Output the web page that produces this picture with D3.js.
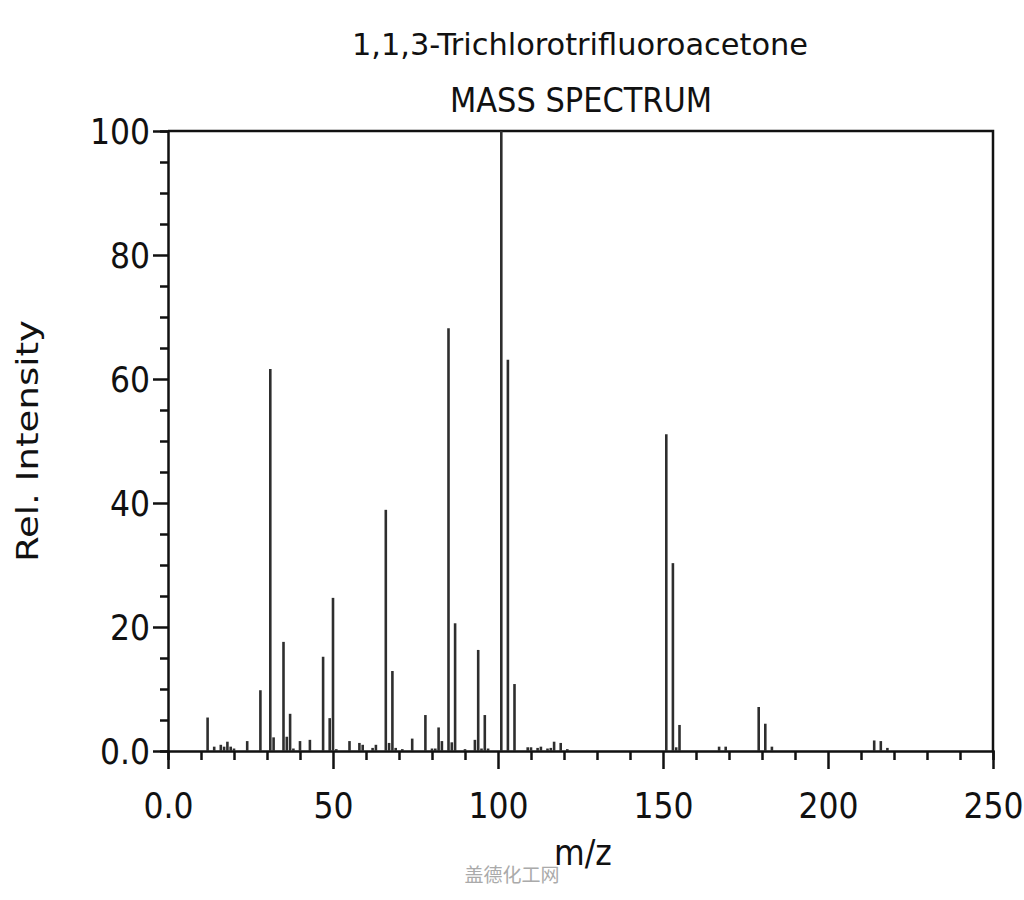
<!DOCTYPE html>
<html lang="en">
  <head>
    <meta charset="utf-8" />
    <title>1,1,3-Trichlorotrifluoroacetone :: mass spectrum</title>
    <style>
      body { margin: 0; background: #fff; }
      svg text { font-family: "DejaVu Sans Condensed", "DejaVu Sans", sans-serif; fill: #111; }
    </style>
    <script src="https://cdn.jsdelivr.net/npm/d3@7"></script>
  </head>
  <body>
    <div id="chart"></div>
    <script>
      // peaks: m/z and relative intensity
      var mz = [12, 14, 16, 17, 18, 19, 20, 24, 28, 31, 32, 35, 36, 37, 38, 40,
        43, 47, 49, 50, 51, 55, 58, 59, 62, 63, 66, 67, 68, 69, 71, 74, 78,
        80, 81, 82, 83, 85, 86, 87, 90, 93, 94, 95, 96, 97, 101, 103, 105,
        109, 110, 112, 113, 115, 116, 117, 119, 121, 151, 153, 154, 155,
        167, 169, 179, 181, 183, 214, 216, 218];
      var intensity = [5.4, 0.7, 1.0, 0.7, 1.5, 0.7, 0.4, 1.6, 9.8, 61.6, 2.2, 17.6, 2.3, 6.0, 0.4, 1.6,
        1.8, 15.2, 5.3, 24.7, 0.3, 1.6, 1.3, 1.0, 0.5, 1.0, 38.9, 1.3, 12.9, 0.5, 0.3, 2.0, 5.8,
        0.4, 0.4, 3.8, 1.6, 68.2, 1.4, 20.6, 0.3, 1.8, 16.3, 0.4, 5.8, 0.4, 100, 63.1, 10.8,
        0.6, 0.6, 0.5, 0.7, 0.4, 0.5, 1.5, 1.3, 0.3, 51.1, 30.3, 0.6, 4.2,
        0.7, 0.7, 7.1, 4.4, 0.7, 1.7, 1.6, 0.5];

      var xMajor = [0, 50, 100, 150, 200, 250];
      var xLabels = ["0.0", "50", "100", "150", "200", "250"];
      var yMajor = [0, 20, 40, 60, 80, 100];
      var yLabels = ["0.0", "20", "40", "60", "80", "100"];

      var width = 1024, height = 900;
      var margin = { top: 131, right: 31, bottom: 149, left: 168 };

      var svg = d3.select("#chart").append("svg")
        .attr("width", width)
        .attr("height", height);

      var x = d3.scaleLinear().domain([0, 250]).range([margin.left, width - margin.right]);
      var y = d3.scaleLinear().domain([0, 100]).range([height - margin.bottom, margin.top]);

      // x axis: long ticks every 50, short ones every 10
      var xAxis = svg.append("g")
        .attr("transform", "translate(0," + y(0) + ")")
        .call(d3.axisBottom(x).tickValues(d3.range(0, 251, 10)).tickSize(9).tickFormat(""));
      xAxis.selectAll(".tick line")
        .attr("y2", function(d) { return d % 50 === 0 ? 18 : 9; });
      xAxis.selectAll(".tick")
        .filter(function(d) { return d % 50 === 0; })
        .append("text")
        .attr("y", 67)
        .attr("font-size", 35)
        .attr("text-anchor", "middle")
        .text(function(d) { return xLabels[xMajor.indexOf(d)]; });

      // y axis: long ticks every 20, short ones every 5
      var yAxis = svg.append("g")
        .attr("transform", "translate(" + x(0) + ",0)")
        .call(d3.axisLeft(y).tickValues(d3.range(0, 101, 5)).tickSize(8).tickFormat(""));
      yAxis.selectAll(".tick line")
        .attr("x2", function(d) { return d % 20 === 0 ? -15 : -8; });
      yAxis.selectAll(".tick")
        .filter(function(d) { return d % 20 === 0; })
        .append("text")
        .attr("x", -18)
        .attr("dy", "0.36em")
        .attr("font-size", 35)
        .attr("text-anchor", "end")
        .text(function(d) { return yLabels[yMajor.indexOf(d)]; });

      svg.selectAll(".domain").attr("stroke", "#111").attr("stroke-width", 2.5);
      svg.selectAll(".tick line").attr("stroke", "#111").attr("stroke-width", 2.5);

      // frame: top and right edges
      svg.append("path")
        .attr("d", "M" + x(0) + "," + y(100) + "H" + x(250) + "V" + y(0))
        .attr("fill", "none")
        .attr("stroke", "#111")
        .attr("stroke-width", 2.5);

      // the peaks
      svg.append("g").selectAll("line")
        .data(mz)
        .join("line")
        .attr("x1", function(d) { return x(d); })
        .attr("x2", function(d) { return x(d); })
        .attr("y1", y(0))
        .attr("y2", function(d, i) { return y(intensity[i]); })
        .attr("stroke", "#2e2e2e")
        .attr("stroke-width", 2.6);

      // titles
      svg.append("text")
        .attr("x", 580).attr("y", 55)
        .attr("text-anchor", "middle")
        .attr("font-size", 31)
        .attr("textLength", 456)
        .attr("lengthAdjust", "spacingAndGlyphs")
        .text("1,1,3-Trichlorotrifluoroacetone");
      svg.append("text")
        .attr("x", 581).attr("y", 112)
        .attr("text-anchor", "middle")
        .attr("font-size", 34)
        .attr("textLength", 262)
        .attr("lengthAdjust", "spacingAndGlyphs")
        .text("MASS SPECTRUM");

      svg.append("text")
        .attr("transform", "translate(38,441) rotate(-90)")
        .attr("text-anchor", "middle")
        .attr("font-size", 31)
        .attr("textLength", 242)
        .attr("lengthAdjust", "spacingAndGlyphs")
        .text("Rel. Intensity");
      svg.append("text")
        .attr("x", 583).attr("y", 865)
        .attr("text-anchor", "middle")
        .attr("font-size", 35)
        .text("m/z");

      // watermark
      svg.append("text")
        .attr("x", 512).attr("y", 882)
        .attr("text-anchor", "middle")
        .attr("font-size", 19)
        .style("font-family", "'Noto Sans CJK SC', sans-serif")
        .style("fill", "#aaa")
        .text("盖德化工网");
    </script>
  </body>
</html>
